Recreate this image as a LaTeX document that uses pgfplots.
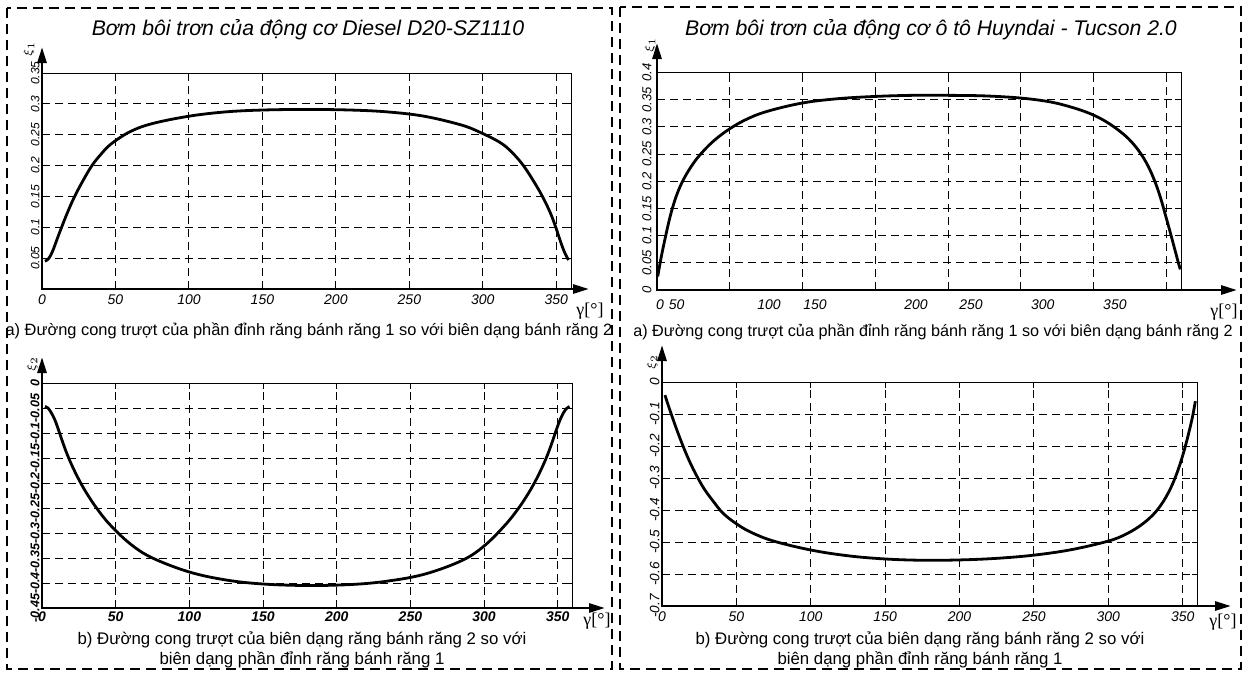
\documentclass[border=0pt]{standalone}
\usepackage{fontspec}
\setmainfont{Liberation Sans}
\newfontfamily\seriffont{Liberation Serif}
\usepackage{pgfplots}
\usepackage{pgfplotstable}
\pgfplotsset{compat=1.18}
\usetikzlibrary{arrows.meta}
\newcommand{\fs}[1]{\fontsize{#1}{#1}\selectfont}

\pgfplotstableread{
x y
2 0.045
4 0.048
6 0.055
8 0.066
10 0.079
13 0.098
17 0.122
22 0.149
28 0.176
34 0.20
40 0.218
47 0.235
60 0.255
75 0.268
100 0.28
125 0.287
150 0.29
180 0.291
210 0.29
235 0.287
260 0.28
285 0.266
298 0.254
312 0.237
320 0.221
327.6 0.20
335 0.173
341 0.148
346 0.123
349.5 0.101
352 0.083
354.5 0.066
356.5 0.055
358.3 0.047
}\tlA

\pgfplotstableread{
x y
0.5 0.025
3 0.062
6 0.1
9 0.135
12.5 0.167
16 0.191
20 0.212
25 0.233
30 0.25
38 0.272
48 0.293
60 0.312
75 0.328
100 0.344
125 0.352
150 0.356
175 0.358
200 0.358
225 0.357
250 0.353
270 0.346
285 0.336
297 0.325
307 0.312
316 0.296
324 0.278
331 0.256
337 0.23
342 0.2
346 0.169
349.5 0.136
352.5 0.107
355.5 0.077
358 0.052
359.5 0.038
}\trA

\pgfplotstableread{
x y
2 -0.047
4 -0.05
6 -0.058
8.5 -0.072
11 -0.092
14 -0.118
17 -0.142
20.5 -0.166
25 -0.193
30 -0.219
37 -0.25
46 -0.283
60 -0.322
75 -0.35
100 -0.378
125 -0.394
150 -0.402
180 -0.405
210 -0.403
235 -0.396
260 -0.382
285 -0.355
300 -0.326
314 -0.285
323 -0.252
330 -0.221
335 -0.195
339.5 -0.168
343 -0.144
346 -0.12
349 -0.094
351.5 -0.074
354 -0.059
356 -0.051
358 -0.047
}\blA

\pgfplotstableread{
x y
2 -0.041
4 -0.07
6.5 -0.104
10 -0.15
14.3 -0.202
18.5 -0.248
23.3 -0.293
28.5 -0.335
34.5 -0.373
41 -0.41
50 -0.443
60 -0.47
75 -0.497
100 -0.525
125 -0.543
150 -0.553
175 -0.557
200 -0.556
225 -0.551
250 -0.541
275 -0.524
300 -0.497
312 -0.475
322 -0.447
330 -0.415
336 -0.38
341 -0.34
345 -0.298
348.5 -0.252
351.5 -0.205
354 -0.16
356.5 -0.11
358.5 -0.06
}\brA

\pgfplotsset{
  panel/.style={
    scale only axis,
    anchor=south west,
    xmin=0, xmax=360,
    axis line style={black, line width=0.5pt},
    tick align=inside,
    major tick length=3pt,
    tick style={black, line width=0.5pt},
    grid=major,
    major grid style={black, line width=0.5pt, dash pattern=on 4pt off 2.5pt},
    xtick={0,50,...,350},
    xticklabel style={anchor=north, inner sep=1pt, yshift=-1.5pt},
    yticklabel style={rotate=90, anchor=south, inner sep=1pt, xshift=0pt},
  },
  curve/.style={black, line width=1.4pt, smooth, tension=0.6, no markers},
}

\begin{document}
\begin{tikzpicture}[x=0.5pt,y=-0.5pt]
\useasboundingbox (0,0) rectangle (1246,675);

% panel borders
\begin{scope}[line width=1pt, dash pattern=on 5pt off 3pt]
\draw (7,8) rectangle (612,669);
\draw (620,7) rectangle (1241,669);
\end{scope}

% ---------------- top-left
\coordinate (TL) at (42,289);
\begin{axis}[panel, at={(TL)}, width=264.5pt, height=108pt,
  ymin=0, ymax=0.35, ytick={0.05,0.1,...,0.35},
  yticklabels={0.05,0.1,0.15,0.2,0.25,0.3,0.35},
  xticklabels={0,50,100,150,200,250,300,350},
  xticklabel style={font=\fs{7}\itshape},
  yticklabel style={font=\fs{6}\itshape},
]
\addplot[curve] table[x=x,y=y] {\tlA};
\end{axis}
\draw[line width=1.4pt, line join=miter, {Triangle[length=8pt,width=4.5pt]}-{Triangle[length=8pt,width=4.5pt]}] (42,47) -- (42,289) -- (589,289);
\node[rotate=90, font=\fs{6}] at (29,49) {$\xi_1$};
\node[font=\seriffont\fs{9}] at (590,311) {γ[°]};
\node[font=\itshape\fs{10.6}] at (308,30) {Bơm bôi trơn của động cơ Diesel D20-SZ1110};
\node[font=\fs{8.2}] at (309,331) {a) Đường cong trượt của phần đỉnh răng bánh răng 1 so với biên dạng bánh răng 2};

% ---------------- top-right
\coordinate (TR) at (657,290);
\begin{axis}[panel, at={(TR)}, width=262pt, height=108.75pt,
  ymin=0, ymax=0.4, ytick={0,0.05,...,0.4},
  yticklabels={0,0.05,0.1,0.15,0.2,0.25,0.3,0.35,0.4},
  xtick={50,100,...,350}, xticklabels={},
  extra x ticks={2,13.5,77,108.5,178,215.7,265,314.6},
  extra x tick labels={0,50,100,150,200,250,300,350},
  extra x tick style={major tick length=0pt, grid=none},
  xticklabel style={font=\fs{7}\itshape, yshift=-2pt},
  yticklabel style={font=\fs{6.5}\itshape, inner sep=2.5pt},
]
\addplot[curve] table[x=x,y=y] {\trA};
\end{axis}
\draw[line width=1.4pt, line join=miter, {Triangle[length=8pt,width=4.5pt]}-{Triangle[length=8pt,width=4.5pt]}] (657,43) -- (657,290) -- (1237,290);
\node[rotate=90, font=\fs{6}] at (650,45) {$\xi_1$};
\node[font=\seriffont\fs{9}] at (1224,312) {γ[°]};
\node[font=\itshape\fs{10.6}] at (931,30) {Bơm bôi trơn của động cơ ô tô Huyndai - Tucson 2.0};
\node[font=\fs{8.1}] at (933,332) {a) Đường cong trượt của phần đỉnh răng bánh răng 1 so với biên dạng bánh răng 2};

% ---------------- bottom-left
\coordinate (BL) at (42,608);
\begin{axis}[panel, at={(BL)}, width=265.25pt, height=112.5pt,
  ymin=-0.45, ymax=0, ytick={-0.45,-0.4,...,0},
  yticklabels={-0.45,-0.4,-0.35,-0.3,-0.25,-0.2,-0.15,-0.1,-0.05,0},
  xticklabels={0,50,100,150,200,250,300,350},
  xticklabel style={font=\fs{7}\bfseries\itshape, yshift=1pt},
  yticklabel style={font=\fs{6.3}\bfseries\itshape},
]
\addplot[curve] table[x=x,y=y] {\blA};
\end{axis}
\draw[line width=1.4pt, line join=miter, {Triangle[length=8pt,width=4.5pt]}-{Triangle[length=8pt,width=4.5pt]}] (42,357) -- (42,608) -- (605,608);
\node[rotate=90, font=\fs{6}] at (32,364) {$\xi_2$};
\node[font=\seriffont\fs{9}] at (597,621) {γ[°]};
\node[font=\fontsize{8.4}{10}\selectfont, align=center] at (302,650) {b) Đường cong trượt của biên dạng răng bánh răng 2 so với\\ biên dạng phần đỉnh răng bánh răng 1};

% ---------------- bottom-right
\coordinate (BR) at (662,606);
\begin{axis}[panel, at={(BR)}, width=267.8pt, height=112pt,
  ymin=-0.7, ymax=0, ytick={-0.7,-0.6,...,0},
  yticklabels={-0.7,-0.6,-0.5,-0.4,-0.3,-0.2,-0.1,0},
  xticklabels={0,50,100,150,200,250,300,350},
  xticklabel style={font=\fs{7}\itshape},
  yticklabel style={font=\fs{6.8}\itshape},
]
\addplot[curve] table[x=x,y=y] {\brA};
\end{axis}
\draw[line width=1.4pt, line join=miter, {Triangle[length=8pt,width=4.5pt]}-{Triangle[length=8pt,width=4.5pt]}] (662,345) -- (662,606) -- (1231,606);
\node[rotate=90, font=\fs{6}] at (652,362) {$\xi_2$};
\node[font=\seriffont\fs{9}] at (1223,622) {γ[°]};
\node[font=\fontsize{8.4}{10}\selectfont, align=center] at (920,650) {b) Đường cong trượt của biên dạng răng bánh răng 2 so với\\ biên dạng phần đỉnh răng bánh răng 1};

\end{tikzpicture}
\end{document}
